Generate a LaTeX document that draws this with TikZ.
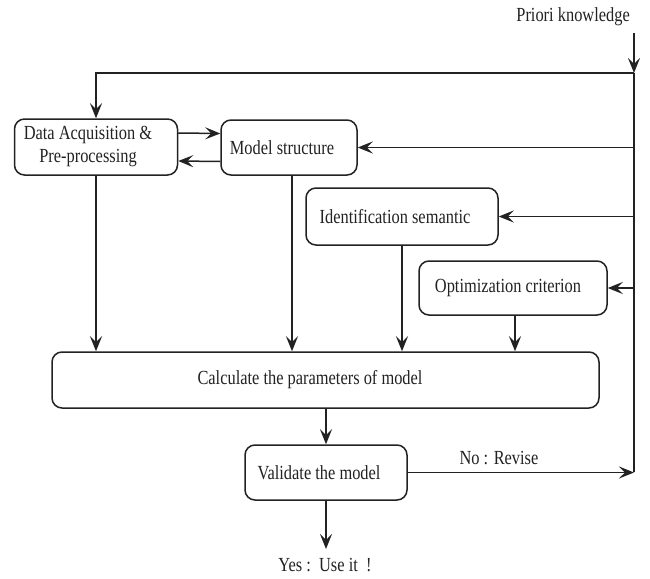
\documentclass[tikz,border=0pt]{standalone}
\usepackage{fontspec}
\setmainfont{Liberation Serif}
\usepackage{graphicx}
\usetikzlibrary{arrows.meta}
\definecolor{ink}{HTML}{222222}
\newcommand\sq[1]{\scalebox{0.82}[1]{#1}}
\begin{document}
\begin{tikzpicture}[x=1pt,y=-1pt,
  box/.style={draw=ink, text=ink, rounded corners=10pt, line width=1.5pt, inner sep=0pt,
    font=\fontsize{20}{23}\selectfont, align=center},
  lbl/.style={inner sep=0pt, text=ink, font=\fontsize{20}{23}\selectfont},
  arr/.style={draw=ink, -{Stealth[length=15pt,width=12pt,inset=6pt]}, line width=1.5pt},
  ln/.style={draw=ink, line width=1.5pt}]
\useasboundingbox (0,0) rectangle (650,578);

\node[lbl, anchor=east] (pri) at (630,17) {\sq{Priori knowledge}};
\coordinate (top) at (634,33);
\coordinate (j1) at (634,73);
\coordinate (bot) at (634,472);

\node[box, minimum width=163pt, minimum height=56pt] (data) at (96,147)
  {\sq{Data Acquisition \&}\hspace*{16pt}\\\sq{Pre-processing}\hspace*{16pt}};
\node[box, minimum width=136pt, minimum height=55pt] (model) at (289,147.5)
  {\sq{Model structure}\hspace*{14pt}};
\node[box, minimum width=192pt, minimum height=57pt] (ident) at (402,216.5)
  {\sq{Identification semantic}\hspace*{14pt}};
\node[box, minimum width=188pt, minimum height=54pt] (opt) at (513,288)
  {\sq{Optimization criterion}\hspace*{10pt}};
\node[box, minimum width=547pt, minimum height=56pt] (calc) at (325.5,380)
  {\sq{Calculate the parameters of model}\hspace*{31pt}};
\node[box, minimum width=162pt, minimum height=55pt] (val) at (326,472.5)
  {\sq{Validate the model}\hspace*{14pt}};
\node[lbl] (no) at (499,458) {\sq{No : Revise}};
\node[lbl] (yes) at (325,565) {\sq{Yes :\ \ Use it\ \ !}};
\coordinate (ye) at (326,549);

\draw[arr] (top) -- (j1);
\draw[ln] (j1) -- (bot);
\draw[arr] (j1) -| (data.north);
\draw[arr] ([yshift=14pt]data.east) -- ([yshift=14pt]model.west);
\draw[arr] ([yshift=-14pt]model.west) -- ([yshift=-14pt]data.east);
\draw[arr] (j1 |- model.east) -- (model.east);
\draw[arr] (j1 |- ident.east) -- (ident.east);
\draw[arr] (j1 |- opt.east) -- (opt.east);

\draw[arr] (data.south) -- (data.south |- calc.north);
\draw[arr] ([xshift=3pt]model.south) -- ([xshift=3pt]model.south |- calc.north);
\draw[arr] (ident.south) -- (ident.south |- calc.north);
\draw[arr] ([xshift=2pt]opt.south) -- ([xshift=2pt]opt.south |- calc.north);
\draw[arr] (val.north |- calc.south) -- (val.north);
\draw[arr] (val.south) -- (ye);
\draw[arr] (val.east) -- (val.east -| bot);
\end{tikzpicture}
\end{document}
